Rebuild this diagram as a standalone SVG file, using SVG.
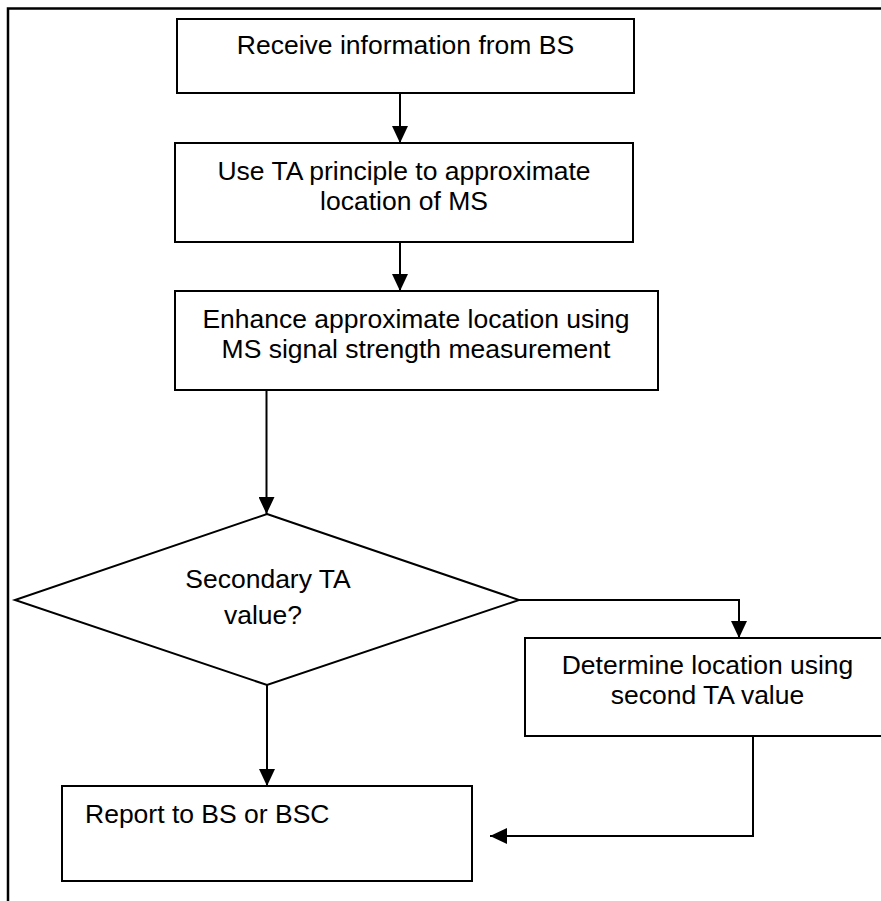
<svg xmlns="http://www.w3.org/2000/svg" width="881" height="901" viewBox="0 0 881 901">
<defs>
<style>
.box{fill:#fff;stroke:#000;stroke-width:2}
.t{font-family:"Liberation Sans",Arial,sans-serif;font-size:26.5px;fill:#000}
.c{text-anchor:middle}
.ln{fill:none;stroke:#000;stroke-width:2}
.frame{fill:none;stroke:#000;stroke-width:2.5}
</style>
<marker id="ah" markerUnits="userSpaceOnUse" markerWidth="18" markerHeight="16" refX="17" refY="8" orient="auto">
<path d="M0,0 L17,8 L0,16 Z" fill="#000"/>
</marker>
</defs>
<rect width="881" height="901" fill="#fff"/>
<path class="frame" d="M8,901 V8.5 H881"/>
<g id="connectors">
<line class="ln" x1="400" y1="93" x2="400" y2="143" marker-end="url(#ah)"/>
<line class="ln" x1="400" y1="242" x2="400" y2="291" marker-end="url(#ah)"/>
<line class="ln" x1="266.5" y1="390" x2="266.5" y2="514" marker-end="url(#ah)"/>
<line class="ln" x1="267" y1="685" x2="267" y2="786" marker-end="url(#ah)"/>
<polyline class="ln" points="519,600 739,600 739,638" marker-end="url(#ah)"/>
<polyline class="ln" points="753,736 753,836 490,836" marker-end="url(#ah)"/>
</g>
<g id="n1">
<rect class="box" x="177" y="19" width="457" height="74"/>
<text class="t c" x="405.5" y="54">Receive information from BS</text>
</g>
<g id="n2">
<rect class="box" x="175" y="143" width="458" height="99"/>
<text class="t c" x="404" y="180">Use TA principle to approximate</text>
<text class="t c" x="404" y="210">location of MS</text>
</g>
<g id="n3">
<rect class="box" x="175" y="291" width="483" height="99"/>
<text class="t c" x="416" y="328">Enhance approximate location using</text>
<text class="t c" x="416" y="358">MS signal strength measurement</text>
</g>
<g id="n4">
<polygon class="box" points="267,514 519,600 267,685 15,600"/>
<text class="t c" x="268" y="588">Secondary TA</text>
<text class="t c" x="263" y="624">value?</text>
</g>
<g id="n5">
<rect class="box" x="525" y="638" width="370" height="98"/>
<text class="t c" x="707.5" y="674">Determine location using</text>
<text class="t c" x="707.5" y="704">second TA value</text>
</g>
<g id="n6">
<rect class="box" x="62" y="786" width="410" height="95"/>
<text class="t" x="85" y="823">Report to BS or BSC</text>
</g>
</svg>
